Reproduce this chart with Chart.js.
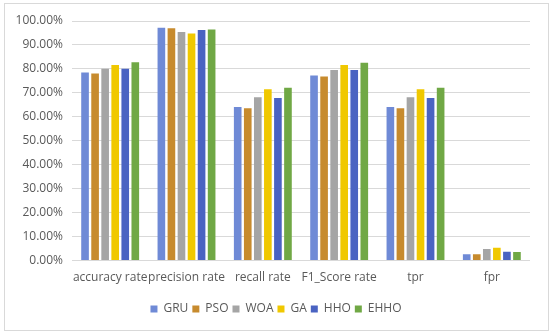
<!DOCTYPE html>
<html>
<head>
<meta charset="utf-8">
<script src="https://cdn.jsdelivr.net/npm/chart.js@4"></script>
<style>
  body { margin: 0; background: #fff; }
  #wrap { position: absolute; left: 0; top: 0; width: 550px; height: 334px; }
  #frame { position: absolute; left: 4px; top: 3px; width: 543px; height: 326px; border: 1px solid #d9d9d9; pointer-events: none; }
</style>
</head>
<body>
<div id="wrap"><canvas id="chart"></canvas></div>
<div id="frame"></div>
<script>
// Categories and series (values in %)
const categories = ['accuracy rate', 'precision rate', 'recall rate', 'F1_Score rate', 'tpr', 'fpr'];
const gru  = [78.5, 97.2, 64.1, 77.3, 64.1, 2.7];
const pso  = [78.1, 97.0, 63.6, 76.8, 63.6, 2.6];
const woa  = [80.1, 95.4, 68.2, 79.5, 68.2, 4.8];
const ga   = [81.6, 94.8, 71.5, 81.6, 71.5, 5.4];
const hho  = [80.1, 96.2, 67.9, 79.5, 67.9, 3.7];
const ehho = [82.8, 96.5, 72.1, 82.6, 72.1, 3.6];
const yTicks = [0, 10, 20, 30, 40, 50, 60, 70, 80, 90, 100];

const textColor = '#595959';
const gridColor = '#d9d9d9';
const fontFamily = '"Open Sans", sans-serif';

const series = [
    { label: 'GRU',  data: gru,  color: '#6f8ad6' },
    { label: 'PSO',  data: pso,  color: '#c78b2e' },
    { label: 'WOA',  data: woa,  color: '#a5a5a5' },
    { label: 'GA',   data: ga,   color: '#f0c800' },
    { label: 'HHO',  data: hho,  color: '#4a63c2' },
    { label: 'EHHO', data: ehho, color: '#70a845' }
];

// nudge the legend so it sits centred under the plot area
const legendShift = {
    id: 'legendShift',
    afterLayout(chart) {
        chart.legend.left += 11;
        chart.legend.right += 11;
    }
};

const ctx = document.getElementById('chart').getContext('2d');

new Chart(ctx, {
    type: 'bar',
    data: {
        labels: categories,
        datasets: series.map(s => ({
            label: s.label,
            data: s.data,
            backgroundColor: s.color,
            borderWidth: 0,
            categoryPercentage: 0.79,
            barPercentage: 0.76
        }))
    },
    options: {
        responsive: true,
        maintainAspectRatio: false,
        animation: false,
        layout: { padding: { left: 0, right: 20, top: 21, bottom: 9 } },
        scales: {
            x: {
                grid: { display: false },
                border: { display: false },
                afterFit: axis => { axis.height += 12; },
                ticks: { color: textColor, font: { family: fontFamily, size: 12 }, padding: 2, maxRotation: 0, autoSkip: false }
            },
            y: {
                min: 0,
                max: 100,
                afterBuildTicks: axis => { axis.ticks = yTicks.map(v => ({ value: v })); },
                afterFit: axis => { axis.width = 72; },
                grid: { color: gridColor, drawTicks: false },
                border: { display: false },
                ticks: {
                    color: textColor,
                    font: { family: fontFamily, size: 12 },
                    padding: 9,
                    callback: v => v.toFixed(2) + '%'
                }
            }
        },
        plugins: {
            legend: {
                position: 'bottom',
                labels: {
                    color: textColor,
                    font: { family: fontFamily, size: 12 },
                    boxWidth: 7,
                    boxHeight: 7,
                    padding: 4
                }
            },
            tooltip: { enabled: false }
        }
    },
    plugins: [legendShift]
});
</script>
</body>
</html>
